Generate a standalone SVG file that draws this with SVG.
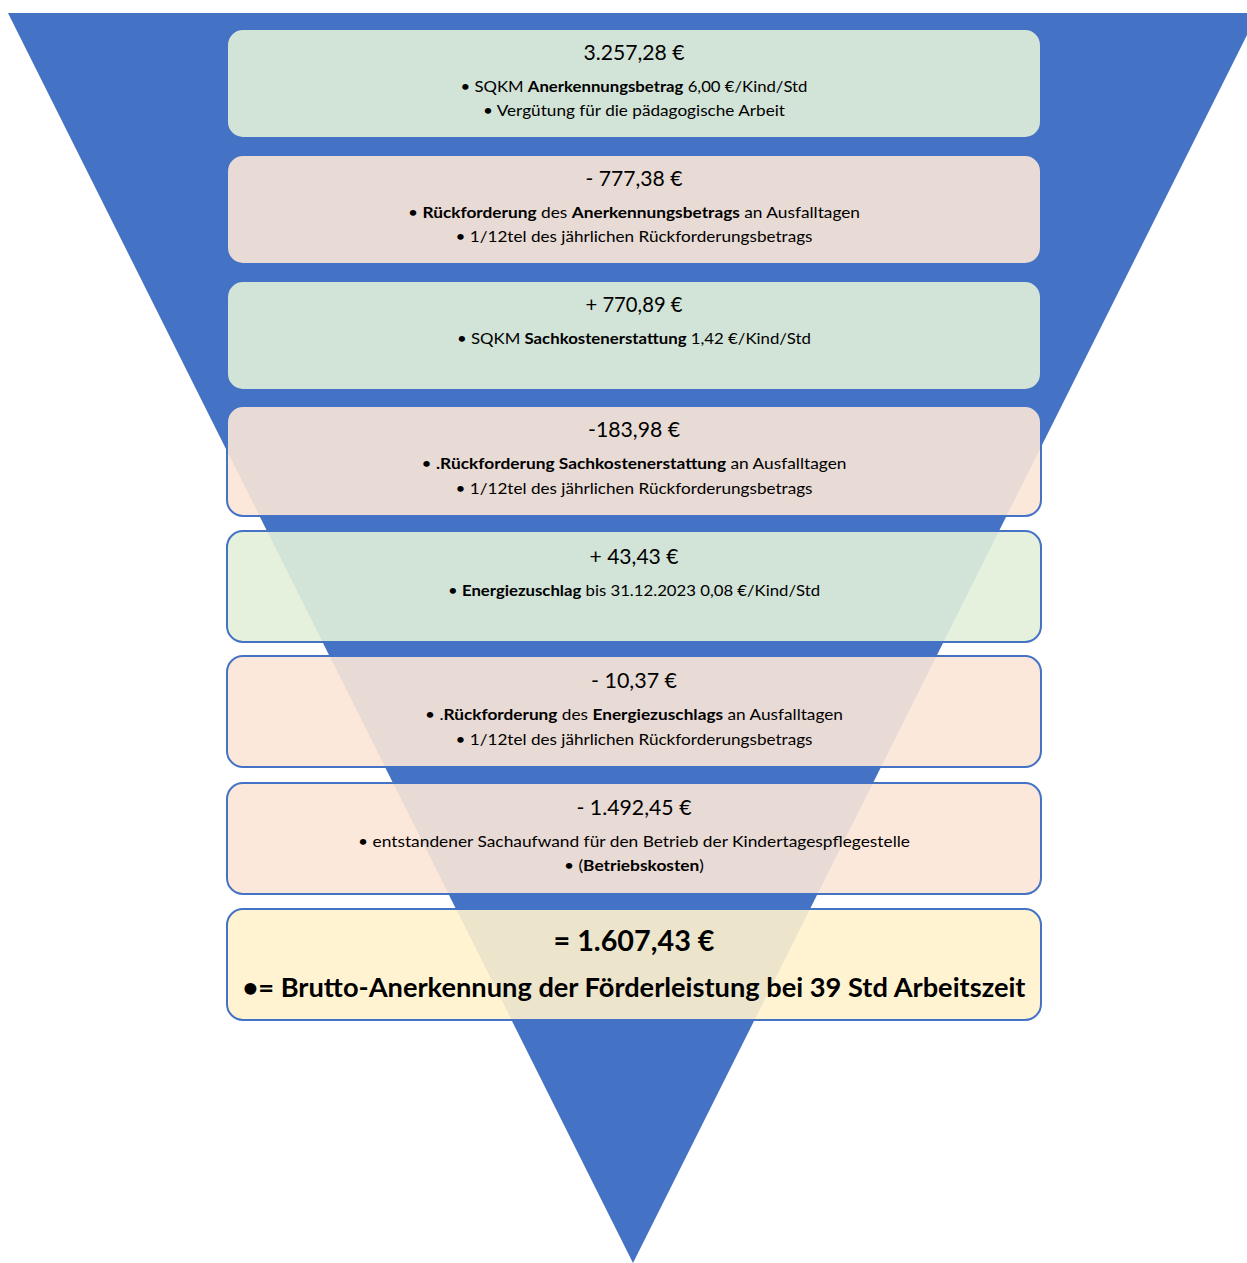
<svg xmlns="http://www.w3.org/2000/svg" width="1247" height="1263" viewBox="0 0 1247 1263">
<style>
.box{stroke:#4472c4;stroke-width:2;fill-opacity:0.9}
.g{fill:#e2f0d9}.p{fill:#fbe5d6}.y{fill:#fff2cc}
text{font-family:Lato,"Open Sans","Liberation Sans",sans-serif;fill:#000;text-anchor:middle}
.t{font-size:22px}
.l{font-size:16px}
.b{font-weight:bold}
.t8{font-size:28px;font-weight:bold}
.l8{font-size:26px;font-weight:bold}
</style>
<rect width="1247" height="1263" fill="#fff"/>
<g id="funnel"><polygon points="8,13 1258,13 633,1263" fill="#4472c4"/></g>
<g id="connectors"/>
<g id="n1">
<rect class="box g" x="227" y="29" width="814" height="109" rx="16"/>
<text class="t" x="634" y="60" textLength="101" lengthAdjust="spacingAndGlyphs">3.257,28 €</text>
<text class="l" x="634" y="92" textLength="347" lengthAdjust="spacingAndGlyphs">• SQKM <tspan class="b">Anerkennungsbetrag</tspan> 6,00 €/Kind/Std</text>
<text class="l" x="634" y="116" textLength="302" lengthAdjust="spacingAndGlyphs">• Vergütung für die pädagogische Arbeit</text>
</g>
<g id="n2">
<rect class="box p" x="227" y="155" width="814" height="109" rx="16"/>
<text class="t" x="634" y="186" textLength="97" lengthAdjust="spacingAndGlyphs">- 777,38 €</text>
<text class="l" x="634" y="218" textLength="452" lengthAdjust="spacingAndGlyphs">• <tspan class="b">Rückforderung</tspan> des <tspan class="b">Anerkennungsbetrags</tspan> an Ausfalltagen</text>
<text class="l" x="634" y="242" textLength="357" lengthAdjust="spacingAndGlyphs">• 1/12tel des jährlichen Rückforderungsbetrags</text>
</g>
<g id="n3">
<rect class="box g" x="227" y="281" width="814" height="109" rx="16"/>
<text class="t" x="634" y="312" textLength="97" lengthAdjust="spacingAndGlyphs">+ 770,89 €</text>
<text class="l" x="634" y="344" textLength="354" lengthAdjust="spacingAndGlyphs">• SQKM <tspan class="b">Sachkostenerstattung</tspan> 1,42 €/Kind/Std</text>
</g>
<g id="n4">
<rect class="box p" x="227" y="406" width="814" height="110" rx="16"/>
<text class="t" x="634" y="437" textLength="92" lengthAdjust="spacingAndGlyphs">-183,98 €</text>
<text class="l" x="634" y="469" textLength="425" lengthAdjust="spacingAndGlyphs">• <tspan class="b">.Rückforderung Sachkostenerstattung</tspan> an Ausfalltagen</text>
<text class="l" x="634" y="494" textLength="357" lengthAdjust="spacingAndGlyphs">• 1/12tel des jährlichen Rückforderungsbetrags</text>
</g>
<g id="n5">
<rect class="box g" x="227" y="531" width="814" height="111" rx="16"/>
<text class="t" x="634" y="564" textLength="89" lengthAdjust="spacingAndGlyphs">+ 43,43 €</text>
<text class="l" x="634" y="596" textLength="372" lengthAdjust="spacingAndGlyphs">• <tspan class="b">Energiezuschlag</tspan> bis 31.12.2023 0,08 €/Kind/Std</text>
</g>
<g id="n6">
<rect class="box p" x="227" y="656" width="814" height="111" rx="16"/>
<text class="t" x="634" y="688" textLength="86" lengthAdjust="spacingAndGlyphs">- 10,37 €</text>
<text class="l" x="634" y="720" textLength="418" lengthAdjust="spacingAndGlyphs">• .<tspan class="b">Rückforderung</tspan> des <tspan class="b">Energiezuschlags</tspan> an Ausfalltagen</text>
<text class="l" x="634" y="745" textLength="357" lengthAdjust="spacingAndGlyphs">• 1/12tel des jährlichen Rückforderungsbetrags</text>
</g>
<g id="n7">
<rect class="box p" x="227" y="783" width="814" height="111" rx="16"/>
<text class="t" x="634" y="815" textLength="115" lengthAdjust="spacingAndGlyphs">- 1.492,45 €</text>
<text class="l" x="634" y="847" textLength="552" lengthAdjust="spacingAndGlyphs">• entstandener Sachaufwand für den Betrieb der Kindertagespflegestelle</text>
<text class="l" x="634" y="871" textLength="140" lengthAdjust="spacingAndGlyphs">• (<tspan class="b">Betriebskosten</tspan>)</text>
</g>
<g id="n8">
<rect class="box y" x="227" y="909" width="814" height="111" rx="16"/>
<text class="t8" x="634" y="951" textLength="161" lengthAdjust="spacingAndGlyphs">= 1.607,43 €</text>
<text class="l8" x="634" y="997" textLength="783" lengthAdjust="spacingAndGlyphs">•= Brutto-Anerkennung der Förderleistung bei 39 Std Arbeitszeit</text>
</g>
</svg>
